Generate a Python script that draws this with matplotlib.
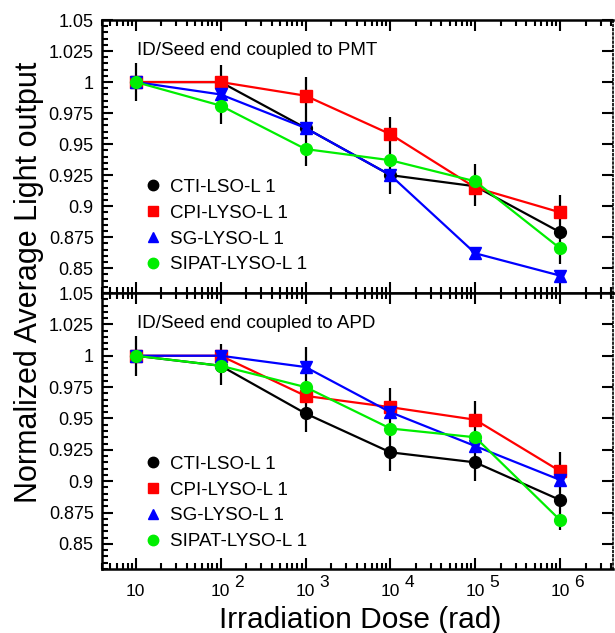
import numpy as np
import matplotlib
matplotlib.use("Agg")
import matplotlib.pyplot as plt
from matplotlib.lines import Line2D
from matplotlib.ticker import MultipleLocator, FixedLocator, LogLocator, FuncFormatter, NullFormatter

plt.rcParams['font.family'] = ['Liberation Sans', 'DejaVu Sans']

# irradiation dose steps (rad)
dose = [10, 1e2, 1e3, 1e4, 1e5, 1e6]
decades = [1, 2, 3, 4, 5, 6]

series_names = ['CTI-LSO-L 1', 'CPI-LYSO-L 1', 'SG-LYSO-L 1', 'SIPAT-LYSO-L 1']

# ID/Seed end coupled to PMT
pmt_cti = [1.000, 1.000, 0.963, 0.925, 0.916, 0.879]
pmt_cpi = [1.000, 1.000, 0.989, 0.958, 0.915, 0.895]
pmt_sg = [1.000, 0.990, 0.963, 0.925, 0.862, 0.844]
pmt_sipat = [1.000, 0.981, 0.946, 0.937, 0.920, 0.866]
pmt_err_mid = [1.000, 0.990, 0.968, 0.941, 0.917, 0.881]
pmt_err = [0.015, 0.024, 0.036, 0.031, 0.017, 0.028]

# ID/Seed end coupled to APD
apd_cti = [1.000, 0.992, 0.954, 0.923, 0.915, 0.885]
apd_cpi = [1.000, 1.000, 0.968, 0.959, 0.949, 0.908]
apd_sg = [1.000, 1.000, 0.991, 0.955, 0.928, 0.901]
apd_sipat = [1.000, 0.992, 0.975, 0.942, 0.935, 0.869]
apd_err_mid = [1.000, 0.993, 0.973, 0.941, 0.932, 0.892]
apd_err = [0.016, 0.016, 0.034, 0.033, 0.032, 0.031]

colors = ['black', '#ff0000', '#0000ff', '#00ee00']
markers = ['o', 's', '^', 'o']


def draw_panel(ax, values, err_mid, err, title):
    ax.errorbar(dose, err_mid, yerr=err, fmt='none', ecolor='black', elinewidth=1.6, capsize=0, zorder=1)
    for vals, c, m in zip(values, colors, markers):
        ax.plot(dose, vals, color=c, lw=1.6, marker=m, ms=8.5, mec=c, mfc=c, zorder=3)
        if m == '^':
            # SG points drawn as up+down triangles
            ax.plot(dose, vals, ls='none', marker='v', ms=8.5, mec=c, mfc=c, zorder=3)

    ax.set_xscale('log')
    ax.set_xlim(4, 4.2e6)
    ax.set_ylim(0.83, 1.05)
    ax.yaxis.set_major_locator(MultipleLocator(0.025))
    ax.yaxis.set_minor_locator(MultipleLocator(0.005))
    ax.yaxis.set_major_formatter(FuncFormatter(lambda v, p: ('%.3f' % v).rstrip('0').rstrip('.')))
    ax.xaxis.set_major_locator(FixedLocator(dose))
    ax.xaxis.set_minor_locator(LogLocator(base=10, subs=np.arange(2, 10)))
    ax.xaxis.set_minor_formatter(NullFormatter())

    ax.tick_params(which='both', direction='in', top=True, right=True, width=1.5, labelsize=13)
    ax.tick_params(which='major', length=8)
    ax.tick_params(which='minor', length=4)
    ax.tick_params(axis='y', which='minor', right=False)
    ax.tick_params(axis='y', pad=6)
    for s in ['left', 'top', 'bottom']:
        ax.spines[s].set_linewidth(1.8)
    ax.spines['right'].set_linewidth(1.2)
    ax.spines['right'].set_linestyle((0, (1, 1.5)))

    ax.text(0.068, 0.89, title, transform=ax.transAxes, fontsize=13.5, ha='left', va='center')


fig = plt.figure(figsize=(6.15, 6.33), dpi=100)
ax1 = fig.add_axes([0.1659, 0.5371, 0.8308, 0.4313])
ax2 = fig.add_axes([0.1659, 0.1011, 0.8308, 0.4360], sharex=ax1)

draw_panel(ax1, [pmt_cti, pmt_cpi, pmt_sg, pmt_sipat], pmt_err_mid, pmt_err, 'ID/Seed end coupled to PMT')
draw_panel(ax2, [apd_cti, apd_cpi, apd_sg, apd_sipat], apd_err_mid, apd_err, 'ID/Seed end coupled to APD')

ax1.tick_params(axis='x', labelbottom=False)

# x labels: base "10" on the tick, exponent added beside it at full size
ax2.xaxis.set_major_formatter(FuncFormatter(lambda v, p: '10'))
ax2.tick_params(axis='x', which='major', pad=11, labelsize=12.5)
for d in decades[1:]:
    ax2.annotate(str(d), xy=(10.0 ** d, 0), xycoords=ax2.get_xaxis_transform(),
                 xytext=(13.5, -9.5), textcoords='offset points',
                 ha='center', va='center', fontsize=12.5)

# legends with marker-only handles
handles = [Line2D([], [], ls='none', marker=m, color=c, ms=7.5) for c, m in zip(colors, markers)]
for ax, top in [(ax1, 0.418), (ax2, 0.41)]:
    ax.legend(handles, series_names, loc='upper left', bbox_to_anchor=(0.081, top),
              frameon=False, fontsize=13.5, handlelength=1.0, handletextpad=0.4,
              labelspacing=0.46, borderpad=0, borderaxespad=0, numpoints=1)

fig.text(0.047, 0.554, 'Normalized Average Light output', rotation=90, fontsize=22,
         ha='center', va='center')
fig.text(0.585, 0.0079, 'Irradiation Dose (rad)', fontsize=21.5, ha='center', va='baseline')

fig.savefig('out.png', dpi=100)
